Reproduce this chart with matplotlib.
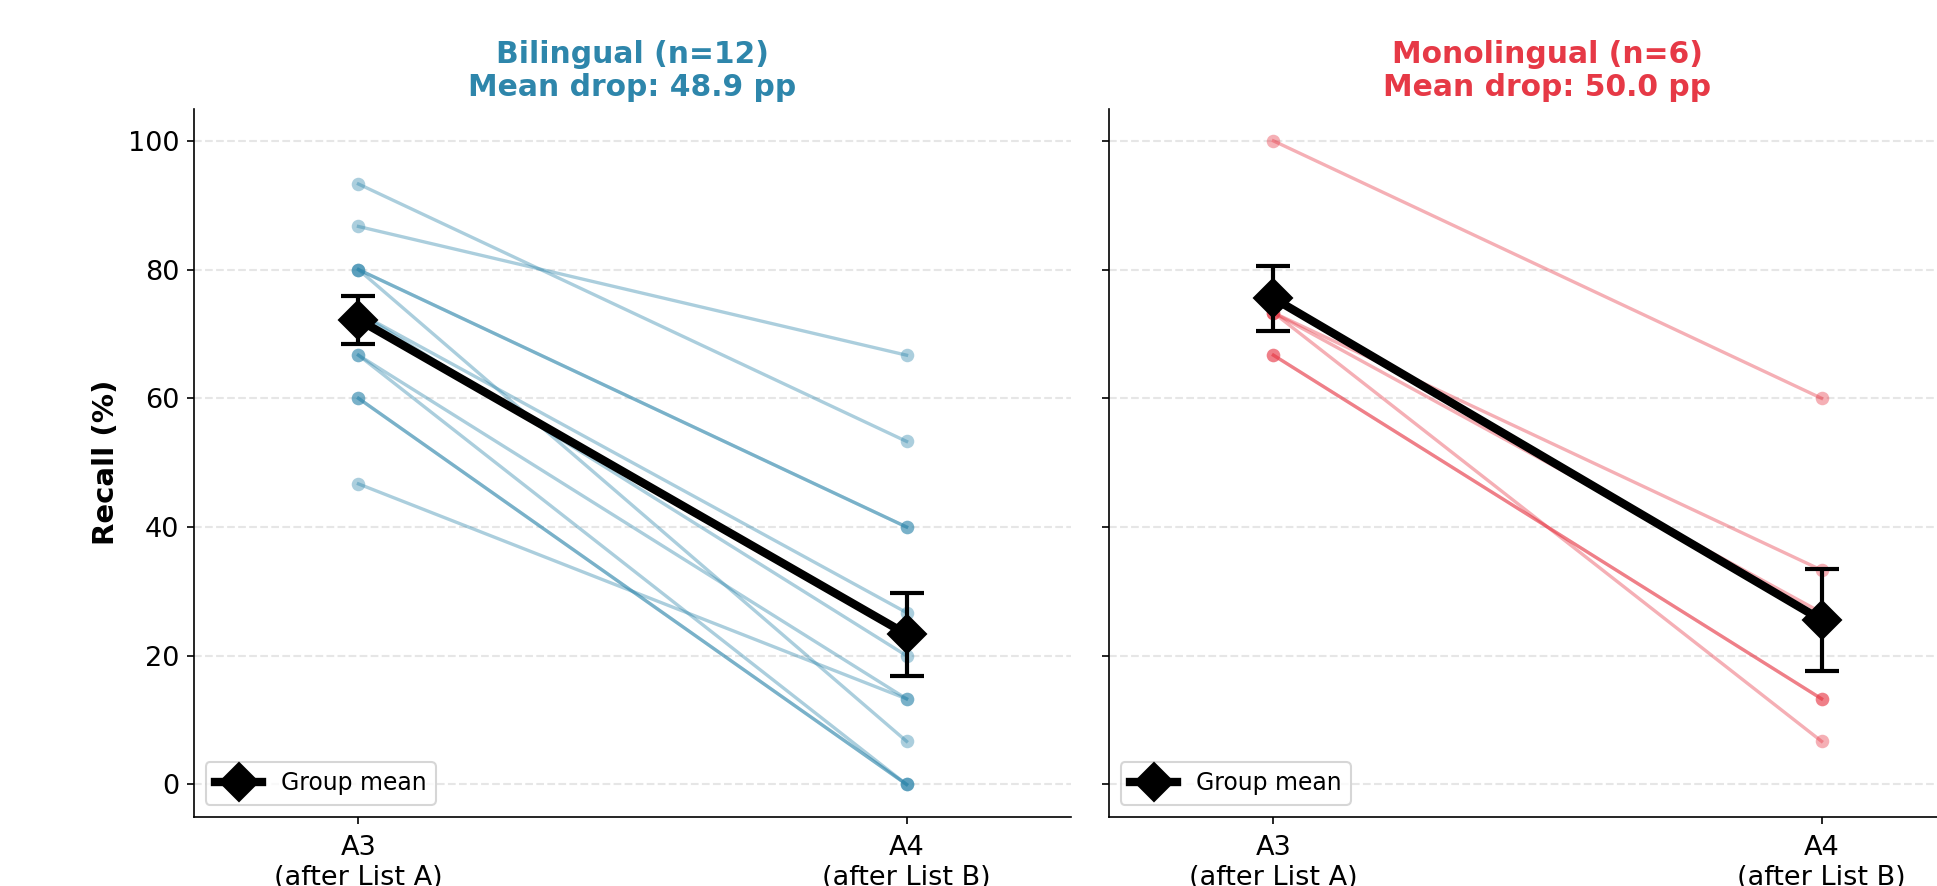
import numpy as np
import matplotlib
matplotlib.use("Agg")
import matplotlib.pyplot as plt

# ---- data (recall %, paired per participant) ----
conditions = ["A3\n(after List A)", "A4\n(after List B)"]

bi_a3 = [93.3, 86.7, 80.0, 80.0, 80.0, 73.3, 73.3, 66.7, 66.7, 60.0, 60.0, 46.7]
bi_a4 = [53.3, 66.7, 40.0, 40.0, 6.7, 26.7, 20.0, 13.3, 0.0, 0.0, 0.0, 13.3]

mono_a3 = [100.0, 73.3, 73.3, 73.3, 66.7, 66.7]
mono_a4 = [60.0, 33.3, 26.7, 6.7, 13.3, 13.3]

groups = ["Bilingual", "Monolingual"]
colors = ["#2E86AB", "#E63946"]

DPI = 150
W, H = 1937, 886
fig = plt.figure(figsize=(W / DPI, H / DPI), dpi=DPI)

ax_w = 877 / W
ax_b = (H - 816.6) / H
ax_h = (816.6 - 108.7) / H
ax1 = fig.add_axes([194 / W, ax_b, ax_w, ax_h])
ax2 = fig.add_axes([1109 / W, ax_b, ax_w, ax_h], sharey=ax1)

data = [(bi_a3, bi_a4), (mono_a3, mono_a4)]
x = np.arange(len(conditions))

for ax, name, color, (a3, a4) in zip([ax1, ax2], groups, colors, data):
    a3 = np.asarray(a3)
    a4 = np.asarray(a4)
    for v3, v4 in zip(a3, a4):
        ax.plot(x, [v3, v4], color=color, alpha=0.4, lw=1.6,
                marker="o", markersize=6.5, markeredgewidth=0, zorder=2)
    means = np.array([a3.mean(), a4.mean()])
    sems = np.array([a3.std(ddof=1) / np.sqrt(len(a3)),
                     a4.std(ddof=1) / np.sqrt(len(a4))])
    ax.errorbar(x, means, yerr=sems, fmt="none", ecolor="black",
                elinewidth=2, capsize=8, capthick=2, zorder=4)
    ax.plot(x, means, color="black", lw=4, marker="D", markersize=13,
            label="Group mean", zorder=5)
    drop = means[0] - means[1]
    ax.set_title(f"{name} (n={len(a3)})\nMean drop: {drop:.1f} pp",
                 fontsize=14.3, fontweight="bold", color=color)
    ax.set_xticks(x)
    ax.set_xticklabels(conditions, fontsize=13)
    ax.set_xlim(-0.3, 1.3)
    ax.set_ylim(-5, 105)
    ax.set_yticks([0, 20, 40, 60, 80, 100])
    ax.tick_params(axis="y", labelsize=13)
    ax.tick_params(axis="x", pad=5.5)
    ax.yaxis.grid(True, linestyle="--", color="#e6e6e6", lw=1)
    ax.set_axisbelow(True)
    ax.spines["top"].set_visible(False)
    ax.spines["right"].set_visible(False)
    ax.legend(loc="lower left", fontsize=11.3)

ax1.set_ylabel("Recall (%)", fontsize=14, fontweight="bold")
plt.setp(ax2.get_yticklabels(), visible=False)

fig.savefig("out.png", dpi=DPI)
